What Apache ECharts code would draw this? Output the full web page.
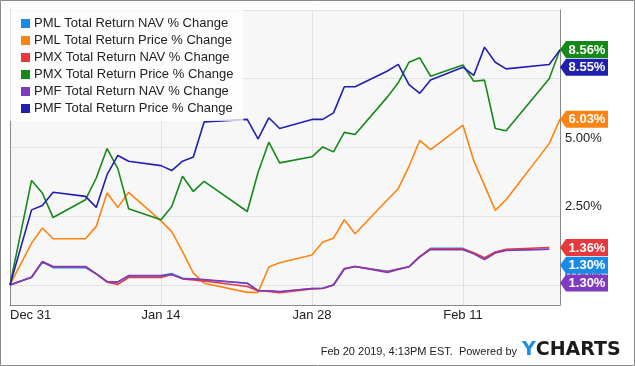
<!DOCTYPE html>
<html>
<head>
<meta charset="utf-8">
<script src="https://cdn.jsdelivr.net/npm/echarts@6/dist/echarts.min.js"></script>
<style>
html,body{margin:0;padding:0;background:#fff;}
#c{width:635px;height:366px;}
</style>
</head>
<body>
<div id="c"></div>
<script>
// ---- data ----
const dates = ['2018-12-31','2019-01-02','2019-01-03','2019-01-04','2019-01-07','2019-01-08','2019-01-09','2019-01-10','2019-01-11',
  '2019-01-14','2019-01-15','2019-01-16','2019-01-17','2019-01-18','2019-01-22','2019-01-23','2019-01-24','2019-01-25',
  '2019-01-28','2019-01-29','2019-01-30','2019-01-31','2019-02-01','2019-02-04','2019-02-05','2019-02-06','2019-02-07','2019-02-08',
  '2019-02-11','2019-02-12','2019-02-13','2019-02-14','2019-02-15','2019-02-19','2019-02-20'];
const seriesNames = ['PML Total Return NAV % Change','PML Total Return Price % Change','PMX Total Return NAV % Change',
  'PMX Total Return Price % Change','PMF Total Return NAV % Change','PMF Total Return Price % Change'];
const pmlNav = [0,0.28,0.83,0.63,0.63,0.40,0.12,0.10,0.33,0.33,0.41,0.24,0.21,0.18,0.06,-0.21,-0.21,-0.26,-0.13,-0.12,0.00,0.58,0.67,0.50,0.58,0.66,1.02,1.33,1.33,1.15,0.95,1.18,1.27,1.30];
const pmlPrice = [0,1.52,2.07,1.68,1.68,2.13,3.34,2.82,3.37,2.33,1.94,1.21,0.43,0.06,-0.27,-0.27,0.65,0.81,1.09,1.56,1.70,2.37,1.86,3.10,3.50,4.31,5.26,4.92,5.81,4.52,3.62,2.71,3.10,5.14,6.03];
const pmxNav = [0,0.28,0.85,0.67,0.67,0.40,0.10,0.02,0.27,0.27,0.38,0.22,0.18,0.14,-0.06,-0.21,-0.24,-0.28,-0.15,-0.13,0.00,0.60,0.67,0.48,0.58,0.66,1.04,1.31,1.31,1.17,0.99,1.20,1.30,1.36];
const pmxPrice = [0,3.80,3.34,2.45,3.10,3.89,4.96,4.23,2.77,2.37,2.85,3.95,3.40,3.77,2.67,4.09,5.19,4.44,4.66,5.02,4.84,5.55,5.47,6.84,7.35,8.10,8.26,7.59,8.00,7.41,7.45,5.69,5.61,7.50,8.56];
const pmfNav = [0,0.28,0.84,0.66,0.66,0.40,0.12,0.11,0.34,0.34,0.38,0.23,0.22,0.20,0.06,-0.21,-0.21,-0.24,-0.13,-0.12,0.00,0.58,0.67,0.45,0.56,0.66,1.02,1.29,1.28,1.13,0.92,1.16,1.25,1.30];
const pmfPrice = [0,2.73,2.89,3.37,3.22,2.82,4.01,4.71,4.50,4.34,4.16,4.50,4.65,5.93,6.02,5.31,6.08,5.69,6.02,6.02,6.26,7.21,7.21,7.78,8.02,7.29,6.97,7.45,7.92,7.62,8.65,8.10,7.86,8.02,8.55];
const yLabelTicks = [0, 2.5, 5, 7.5];
const yGridTicks = [0, 2.5, 5, 7.5, 10];
const footerText = 'Feb 20 2019, 4:13PM EST.  Powered by';

const colors = ['#1a8ae6','#fd8412','#e8383b','#14891a','#7e3bbf','#2020b0'];
const allValues = [pmlNav, pmlPrice, pmxNav, pmxPrice, pmfNav, pmfPrice];

const DAY = 86400000;
const base = Date.parse(dates[0] + 'T00:00:00Z');
const dayOff = dates.map(d => Math.round((Date.parse(d + 'T00:00:00Z') - base) / DAY));
const lastDay = dayOff[dayOff.length - 1];
const MONTHS = ['Jan','Feb','Mar','Apr','May','Jun','Jul','Aug','Sep','Oct','Nov','Dec'];
function fmtDay(v){
  const d = new Date(base + v * DAY);
  return MONTHS[d.getUTCMonth()] + ' ' + d.getUTCDate();
}

const chart = echarts.init(document.getElementById('c'), null, {renderer:'canvas'});
const FONT = 'Liberation Sans, Arial, sans-serif';

const series = allValues.map((vals, i) => ({
  name: seriesNames[i],
  type: 'line',
  data: vals.map((v, k) => [dayOff[k], v]),
  showSymbol: false,
  symbol: 'none',
  lineStyle: {width: 1.6, color: colors[i]},
  itemStyle: {color: colors[i]},
  animation: false,
  z: 2
}));

chart.setOption({
  animation: false,
  textStyle: {fontFamily: FONT},
  grid: {left: 10, right: 75, top: 10, bottom: 61, show: true, backgroundColor: '#f7f7f7', borderWidth: 0},
  legend: {
    orient: 'vertical', left: 10, top: 10,
    icon: 'rect', itemWidth: 9, itemHeight: 9, itemGap: 4,
    backgroundColor: 'rgba(255,255,255,0.75)',
    padding: [7, 10, 6, 11],
    textStyle: {fontSize: 13, color: '#222', fontFamily: FONT, padding: [0,0,0,-1]},
    selectedMode: false,
    data: seriesNames
  },
  xAxis: {
    type: 'value', min: 0, max: lastDay, interval: 14,
    axisLine: {show: true, onZero: false, lineStyle: {color: '#888'}},
    axisTick: {show: false},
    splitLine: {show: true, lineStyle: {color: '#e2e2e2'}},
    axisLabel: {fontSize: 13, color: '#222', margin: 4, formatter: v => fmtDay(v),
      showMaxLabel: false, alignMinLabel: 'left'}
  },
  yAxis: [{
    type: 'value', position: 'right', min: -0.73, max: 10,
    axisLine: {show: true, onZero: false, lineStyle: {color: '#888'}},
    axisTick: {show: false, customValues: yGridTicks},
    splitLine: {show: true, lineStyle: {color: '#e2e2e2'}},
    axisLabel: {fontSize: 13, color: '#222', margin: 5, customValues: yLabelTicks,
      verticalAlign: 'bottom', padding: [0,0,3,0],
      formatter: v => v.toFixed(2) + '%'}
  }, {
    type: 'value', position: 'left', min: -0.73, max: 10,
    axisLine: {show: true, onZero: false, lineStyle: {color: '#888'}},
    axisTick: {show: false}, axisLabel: {show: false}, splitLine: {show: false}
  }],
  series: series
});

// end-of-line value tags, positioned through the chart's own scales
function buildTags(){
  const items = allValues.map((vals, i) => {
    const v = vals[vals.length - 1];
    const p = chart.convertToPixel({gridIndex: 0}, [lastDay, v]);
    return {i, v, x: p[0], y: p[1]};
  });
  items.sort((a, b) => (b.v - a.v) || (a.i - b.i));
  const step = 17.7;
  let prev = -1e9;
  items.forEach(it => { it.ty = Math.max(it.y, prev + step); prev = it.ty; });
  const g = [];
  items.forEach(it => {
    const x0 = it.x, yc = it.ty, h = 8.5;
    g.push({type: 'polygon', z: 100,
      shape: {points: [[x0, yc], [x0 + 6, yc - h], [x0 + 48, yc - h], [x0 + 48, yc + h], [x0 + 6, yc + h]]},
      style: {fill: colors[it.i]}});
    g.push({type: 'text', z: 101, x: x0 + 27, y: yc + 0.5,
      style: {text: it.v.toFixed(2) + '%', fill: '#fff', font: 'bold 13px ' + FONT, textAlign: 'center', textVerticalAlign: 'middle'}});
  });
  // frame and footer
  g.push({type: 'rect', z: 100, shape: {x: 0.5, y: 0.5, width: 634, height: 365}, style: {fill: 'none', stroke: '#8a8a8a', lineWidth: 1}});
  g.push({type: 'text', z: 100, x: 517, y: 352,
    style: {text: footerText, fill: '#222', font: '11px ' + FONT, textAlign: 'right', textVerticalAlign: 'middle'}});
  g.push({type: 'text', z: 100, x: 522, y: 350,
    style: {text: '{y|Y}{c|CHARTS}', textVerticalAlign: 'middle', textAlign: 'left',
      rich: {y: {fill: '#1a8fe3', font: 'bold 19px DejaVu Sans'}, c: {fill: '#1b1b1b', font: 'bold 19px DejaVu Sans'}}}});
  chart.setOption({graphic: g});
}
buildTags();
</script>
</body>
</html>
